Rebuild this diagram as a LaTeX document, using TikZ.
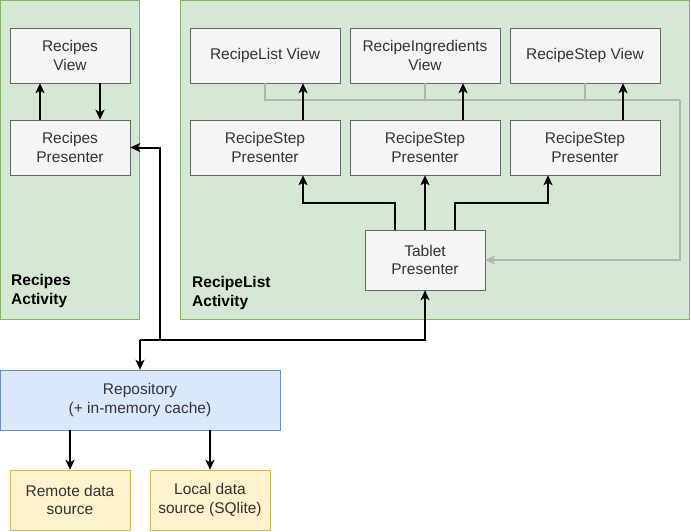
\documentclass[tikz,border=0pt]{standalone}
\usepackage{fontspec}
\setmainfont{Liberation Sans}
\usetikzlibrary{arrows.meta}
\definecolor{actfill}{HTML}{D5E8D4}
\definecolor{actline}{HTML}{82B366}
\definecolor{boxfill}{HTML}{F5F5F5}
\definecolor{boxline}{HTML}{666666}
\definecolor{boxtext}{HTML}{333333}
\definecolor{repofill}{HTML}{DAE8FC}
\definecolor{repoline}{HTML}{6C8EBF}
\definecolor{srcfill}{HTML}{FFF2CC}
\definecolor{srcline}{HTML}{D6B656}
\definecolor{viewline}{HTML}{B3B3B3}
\begin{document}
\begin{tikzpicture}[x=1pt,y=-1pt,
    >={Stealth[length=10pt,width=9pt,inset=2.5pt]},
    group/.style ={rectangle, draw=actline, fill=actfill, inner sep=0pt},
    grouplabel/.style ={align=left, anchor=west, inner sep=0pt, font=\fontsize{15.5}{18.5}\selectfont\bfseries},
    box/.style ={rectangle, draw=boxline, fill=boxfill, text=boxtext, align=center, inner sep=0pt,
                 minimum width=120pt, minimum height=55pt, font=\fontsize{15.5}{18.5}\selectfont},
    wide/.style ={box, minimum width=150pt},
    repo/.style ={box, draw=repoline, fill=repofill, minimum width=280pt, minimum height=60pt},
    source/.style ={box, draw=srcline, fill=srcfill, minimum height=60pt},
    link/.style ={line width=2pt, ->},
    viewlink/.style ={line width=2pt, draw=viewline}]
   \useasboundingbox (0,0) rectangle (691,531);
   % activities
   \node[group, minimum width=139pt, minimum height=319pt] (ract) at (70,160) {};
   \node[group, minimum width=509pt, minimum height=319pt] (lact) at (435,160) {};
   \node[grouplabel] (rlab) at (11,291) {Recipes\\Activity};
   \node[grouplabel] (llab) at (192,293) {RecipeList\\Activity};
   % recipes activity
   \node[box] (rview) at (70,55.5) {Recipes\\View};
   \node[box] (rpres) at (70,147.5) {Recipes\\Presenter};
   \draw[link] ([xshift=-30pt]rpres.north) -- ([xshift=-30pt]rview.south);
   \draw[link] ([xshift=30pt]rview.south) -- ([xshift=30pt]rpres.north);
   % recipe list activity
   \node[wide] (lview) at (265,55.5) {RecipeList View};
   \node[wide] (iview) at (425,55.5) {RecipeIngredients\\View};
   \node[wide] (sview) at (585,55.5) {RecipeStep View};
   \node[wide] (lpres) at (265,147.5) {RecipeStep\\Presenter};
   \node[wide] (ipres) at (425,147.5) {RecipeStep\\Presenter};
   \node[wide] (spres) at (585,147.5) {RecipeStep\\Presenter};
   \node[box, minimum height=60pt] (tpres) at (425,260) {Tablet\\Presenter};
   \coordinate (vcorner) at (680,100);
   \draw[viewlink] (lview.south) |- (vcorner);
   \draw[viewlink] (iview.south) -- ++(0,17);
   \draw[viewlink] (sview.south) -- ++(0,17);
   \draw[viewlink, ->] (vcorner) |- (tpres.east);
   \draw[link] ([xshift=38pt]lpres.north) -- ([xshift=38pt]lview.south);
   \draw[link] ([xshift=38pt]ipres.north) -- ([xshift=38pt]iview.south);
   \draw[link] ([xshift=38pt]spres.north) -- ([xshift=38pt]sview.south);
   \draw[link] ([xshift=-30pt]tpres.north) -- ++(0,-27) -| ([xshift=38pt]lpres.south);
   \draw[link] (tpres.north) -- (ipres.south);
   \draw[link] ([xshift=30pt]tpres.north) -- ++(0,-27) -| ([xshift=-37pt]spres.south);
   % data layer
   \node[repo] (repo) at (140,400) {Repository\\(+ in-memory cache)};
   \node[source] (remote) at (70,500) {Remote data\\source};
   \node[source] (local) at (210,500) {Local data\\source (SQlite)};
   \coordinate (hub) at (140,340);
   \draw[link] (hub) -- (repo.north);
   \draw[link] (hub) -| (tpres.south);
   \draw[link] (hub) -- ++(20,0) |- (rpres.east);
   \draw[link] ([xshift=-70pt]repo.south) -- (remote.north);
   \draw[link] ([xshift=70pt]repo.south) -- (local.north);
\end{tikzpicture}
\end{document}
